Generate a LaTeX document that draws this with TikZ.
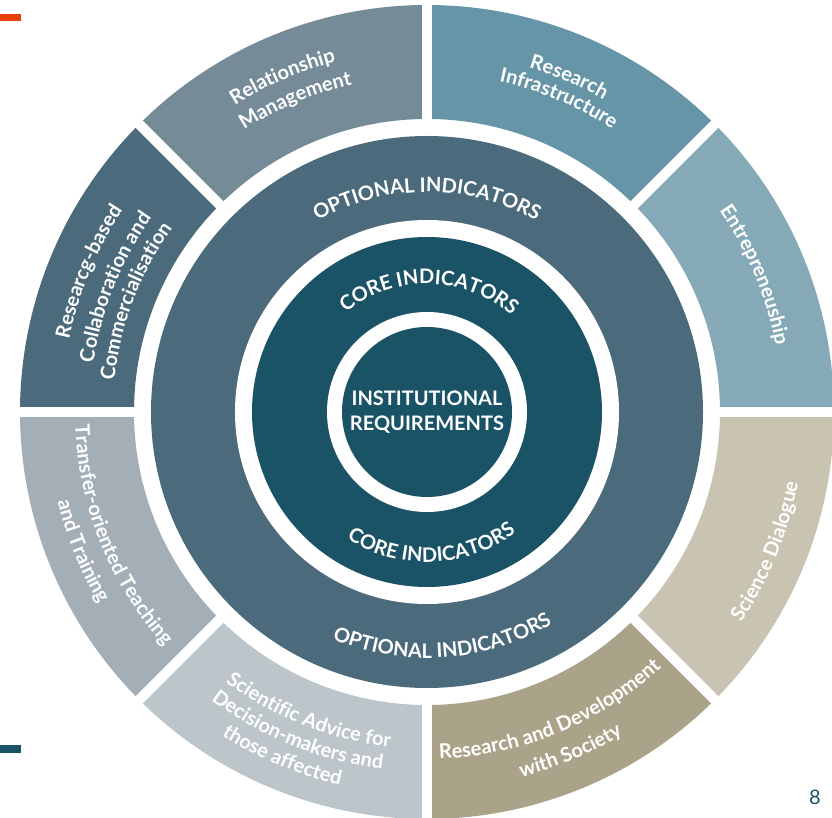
\documentclass[tikz,border=0pt]{standalone}
\usepackage{fontspec}
\setmainfont{Lato}
\usetikzlibrary{decorations.text}

\definecolor{entcol}{HTML}{86A9B7}
\definecolor{infcol}{HTML}{6795A8}
\definecolor{relcol}{HTML}{768B98}
\definecolor{colcol}{HTML}{4B6A7B}
\definecolor{teacol}{HTML}{A4AEB7}
\definecolor{advcol}{HTML}{BCC5CA}
\definecolor{soccol}{HTML}{ABA389}
\definecolor{diacol}{HTML}{C9C4B1}
\definecolor{optcol}{HTML}{4B6A7B}
\definecolor{corecol}{HTML}{1A5266}
\definecolor{markcol}{HTML}{E8400C}

\newcommand\segfont{\fontsize{20}{20}\selectfont\bfseries}
\newcommand\ringfont{\fontsize{20}{20}\selectfont\bfseries}

% curved text lines: [font]{mid angle}{baseline radius}{text}
\newcommand\cwline[4][\segfont]{%
  \path[decorate, decoration={text along path, text align=center, text color=white, text={|#1|#4}}]
    ({#2+80}:#3) arc[start angle={#2+80}, end angle={#2-80}, radius=#3];}
\newcommand\ccwline[4][\segfont]{%
  \path[decorate, decoration={text along path, text align=center, text color=white, text={|#1|#4}}]
    ({#2-80}:#3) arc[start angle={#2-80}, end angle={#2+80}, radius=#3];}

\begin{document}
\begin{tikzpicture}[x=1pt, y=1pt]
\useasboundingbox (-427,-406) rectangle (405,412);
\clip (-427,-406) rectangle (405,412);

% outer fields
\foreach \a/\col in {0/entcol, 45/infcol, 90/relcol, 135/colcol, 180/teacol, 225/advcol, 270/soccol, 315/diacol}
  \fill[\col] (\a:293) arc[start angle=\a, end angle=\a+45, radius=293]
    -- ({\a+45}:407) arc[start angle=\a+45, end angle=\a, radius=407] -- cycle;
\foreach \a in {0,45,...,315}
  \draw[white, line width=10] (\a:285) -- (\a:420);

% rings
\fill[optcol] (0,0) circle[radius=276];
\fill[white] (0,0) circle[radius=192];
\fill[corecol] (0,0) circle[radius=175];
\fill[white] (0,0) circle[radius=100];
\node[circle, fill=corecol, minimum size=170pt, inner sep=0pt, text=white, align=center,
  font=\fontsize{20}{25}\selectfont\bfseries] (inst) at (0,0) {INSTITUTIONAL\\REQUIREMENTS};

\cwline[\ringfont]{90}{220}{OPTIONAL INDICATORS}
\ccwline[\ringfont]{-86}{246}{OPTIONAL INDICATORS}
\cwline[\ringfont]{89}{128}{CORE INDICATORS}
\ccwline[\ringfont]{-88}{150}{CORE INDICATORS}

% field labels
\cwline{113.3}{362}{Relationship}
\cwline{112.9}{336}{Management}
\cwline{67}{359}{Research}
\cwline{67.2}{338}{Infrastructure}
\cwline{22.7}{355}{Entrepreneuship}
\ccwline{-22.3}{378}{Science Dialogue}
\ccwline{-67.7}{347}{Research and Development}
\ccwline{-67.1}{377}{with Society}
\ccwline{-111.5}{337}{Scientific Advice for}
\ccwline{-112}{360}{Decision-makers and}
\ccwline{-112.8}{383}{those affected}
\ccwline{201.9}{352}{Transfer-oriented Teaching}
\ccwline{202}{380}{and Training}
\cwline{157.5}{365}{Researcg-based}
\cwline{158.2}{337}{Collaboration and}
\cwline{159.2}{314}{Commercialisation}

% page marks
\fill[markcol] (-427,398) rectangle (-406,391);
\fill[corecol] (-427,-333) rectangle (-406,-341);
\node[text=corecol, font=\fontsize{20}{20}\selectfont] (pagenum) at (388,-385) {8};
\end{tikzpicture}
\end{document}
